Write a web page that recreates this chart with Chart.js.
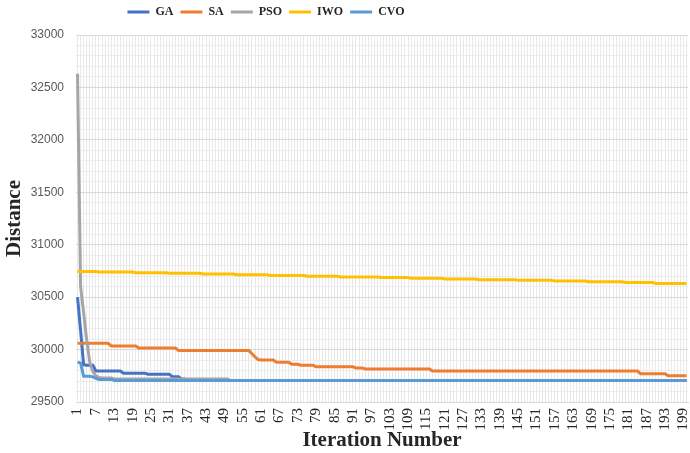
<!DOCTYPE html>
<html>
<head>
<meta charset="utf-8">
<script src="https://cdn.jsdelivr.net/npm/chart.js@4.4.1/dist/chart.umd.min.js"></script>
<style>
  html, body { margin: 0; padding: 0; background: #fff; }
  canvas { display: block; }
</style>
</head>
<body>
<canvas id="conv-canvas" width="690" height="453"></canvas>
<script>
let iterations = Array.from({ length: 200 }, (_, i) => i + 1);
let seriesNames = ['GA', 'SA', 'PSO', 'IWO', 'CVO'];
let seriesColors = ['#4472C4', '#ED7D31', '#A5A5A5', '#FFC000', '#5B9BD5'];

let gaDistance = [
    30500, 30180, 29855, 29850, 29850, 29850, 29795, 29795, 29795, 29795, 29795, 29795, 29795, 29795, 29795, 29775, 29775, 29775, 29775, 29775,
    29775, 29775, 29775, 29765, 29765, 29765, 29765, 29765, 29765, 29765, 29765, 29740, 29740, 29740, 29720, 29720, 29705, 29705, 29705, 29705,
    29705, 29705, 29705, 29705, 29705, 29705, 29705, 29705, 29705, 29705, 29705, 29705, 29705, 29705, 29705, 29705, 29705, 29705, 29705, 29705,
    29705, 29705, 29705, 29705, 29705, 29705, 29705, 29705, 29705, 29705, 29705, 29705, 29705, 29705, 29705, 29705, 29705, 29705, 29705, 29705,
    29705, 29705, 29705, 29705, 29705, 29705, 29705, 29705, 29705, 29705, 29705, 29705, 29705, 29705, 29705, 29705, 29705, 29705, 29705, 29705,
    29705, 29705, 29705, 29705, 29705, 29705, 29705, 29705, 29705, 29705, 29705, 29705, 29705, 29705, 29705, 29705, 29705, 29705, 29705, 29705,
    29705, 29705, 29705, 29705, 29705, 29705, 29705, 29705, 29705, 29705, 29705, 29705, 29705, 29705, 29705, 29705, 29705, 29705, 29705, 29705,
    29705, 29705, 29705, 29705, 29705, 29705, 29705, 29705, 29705, 29705, 29705, 29705, 29705, 29705, 29705, 29705, 29705, 29705, 29705, 29705,
    29705, 29705, 29705, 29705, 29705, 29705, 29705, 29705, 29705, 29705, 29705, 29705, 29705, 29705, 29705, 29705, 29705, 29705, 29705, 29705,
    29705, 29705, 29705, 29705, 29705, 29705, 29705, 29705, 29705, 29705, 29705, 29705, 29705, 29705, 29705, 29705, 29705, 29705, 29705, 29705
];

let saDistance = [
    30060, 30060, 30060, 30060, 30060, 30060, 30060, 30060, 30060, 30060, 30060, 30035, 30035, 30035, 30035, 30035, 30035, 30035, 30035, 30035,
    30015, 30015, 30015, 30015, 30015, 30015, 30015, 30015, 30015, 30015, 30015, 30015, 30015, 29990, 29990, 29990, 29990, 29990, 29990, 29990,
    29990, 29990, 29990, 29990, 29990, 29990, 29990, 29990, 29990, 29990, 29990, 29990, 29990, 29990, 29990, 29990, 29990, 29960, 29930, 29905,
    29900, 29900, 29900, 29900, 29900, 29880, 29880, 29880, 29880, 29880, 29860, 29860, 29860, 29850, 29850, 29850, 29850, 29850, 29835, 29835,
    29835, 29835, 29835, 29835, 29835, 29835, 29835, 29835, 29835, 29835, 29835, 29825, 29825, 29825, 29815, 29815, 29815, 29815, 29815, 29815,
    29815, 29815, 29815, 29815, 29815, 29815, 29815, 29815, 29815, 29815, 29815, 29815, 29815, 29815, 29815, 29815, 29795, 29795, 29795, 29795,
    29795, 29795, 29795, 29795, 29795, 29795, 29795, 29795, 29795, 29795, 29795, 29795, 29795, 29795, 29795, 29795, 29795, 29795, 29795, 29795,
    29795, 29795, 29795, 29795, 29795, 29795, 29795, 29795, 29795, 29795, 29795, 29795, 29795, 29795, 29795, 29795, 29795, 29795, 29795, 29795,
    29795, 29795, 29795, 29795, 29795, 29795, 29795, 29795, 29795, 29795, 29795, 29795, 29795, 29795, 29795, 29795, 29795, 29795, 29795, 29795,
    29795, 29795, 29795, 29795, 29770, 29770, 29770, 29770, 29770, 29770, 29770, 29770, 29770, 29750, 29750, 29750, 29750, 29750, 29750, 29750
];

let psoDistance = [
    32630, 30600, 30350, 30090, 29880, 29790, 29750, 29735, 29730, 29730, 29730, 29730, 29720, 29720, 29720, 29720, 29720, 29720, 29720, 29720,
    29720, 29720, 29720, 29720, 29720, 29720, 29720, 29720, 29720, 29720, 29720, 29720, 29720, 29720, 29720, 29720, 29720, 29720, 29720, 29720,
    29720, 29720, 29720, 29720, 29720, 29720, 29720, 29720, 29720, 29720, 29705, 29705, 29705, 29705, 29705, 29705, 29705, 29705, 29705, 29705,
    29705, 29705, 29705, 29705, 29705, 29705, 29705, 29705, 29705, 29705, 29705, 29705, 29705, 29705, 29705, 29705, 29705, 29705, 29705, 29705,
    29705, 29705, 29705, 29705, 29705, 29705, 29705, 29705, 29705, 29705, 29705, 29705, 29705, 29705, 29705, 29705, 29705, 29705, 29705, 29705,
    29705, 29705, 29705, 29705, 29705, 29705, 29705, 29705, 29705, 29705, 29705, 29705, 29705, 29705, 29705, 29705, 29705, 29705, 29705, 29705,
    29705, 29705, 29705, 29705, 29705, 29705, 29705, 29705, 29705, 29705, 29705, 29705, 29705, 29705, 29705, 29705, 29705, 29705, 29705, 29705,
    29705, 29705, 29705, 29705, 29705, 29705, 29705, 29705, 29705, 29705, 29705, 29705, 29705, 29705, 29705, 29705, 29705, 29705, 29705, 29705,
    29705, 29705, 29705, 29705, 29705, 29705, 29705, 29705, 29705, 29705, 29705, 29705, 29705, 29705, 29705, 29705, 29705, 29705, 29705, 29705,
    29705, 29705, 29705, 29705, 29705, 29705, 29705, 29705, 29705, 29705, 29705, 29705, 29705, 29705, 29705, 29705, 29705, 29705, 29705, 29705
];

let iwoDistance = [
    30745, 30745, 30745, 30745, 30745, 30745, 30745, 30740, 30740, 30740, 30740, 30740, 30740, 30740, 30740, 30740, 30740, 30740, 30740, 30733,
    30733, 30733, 30733, 30733, 30733, 30733, 30733, 30733, 30733, 30733, 30727, 30727, 30727, 30727, 30727, 30727, 30727, 30727, 30727, 30727,
    30727, 30720, 30720, 30720, 30720, 30720, 30720, 30720, 30720, 30720, 30720, 30720, 30713, 30713, 30713, 30713, 30713, 30713, 30713, 30713,
    30713, 30713, 30713, 30707, 30707, 30707, 30707, 30707, 30707, 30707, 30707, 30707, 30707, 30707, 30707, 30700, 30700, 30700, 30700, 30700,
    30700, 30700, 30700, 30700, 30700, 30700, 30693, 30693, 30693, 30693, 30693, 30693, 30693, 30693, 30693, 30693, 30693, 30693, 30693, 30687,
    30687, 30687, 30687, 30687, 30687, 30687, 30687, 30687, 30687, 30680, 30680, 30680, 30680, 30680, 30680, 30680, 30680, 30680, 30680, 30680,
    30673, 30673, 30673, 30673, 30673, 30673, 30673, 30673, 30673, 30673, 30673, 30667, 30667, 30667, 30667, 30667, 30667, 30667, 30667, 30667,
    30667, 30667, 30667, 30667, 30660, 30660, 30660, 30660, 30660, 30660, 30660, 30660, 30660, 30660, 30660, 30660, 30653, 30653, 30653, 30653,
    30653, 30653, 30653, 30653, 30653, 30653, 30653, 30647, 30647, 30647, 30647, 30647, 30647, 30647, 30647, 30647, 30647, 30647, 30647, 30640,
    30640, 30640, 30640, 30640, 30640, 30640, 30640, 30640, 30640, 30630, 30630, 30630, 30630, 30630, 30630, 30630, 30630, 30630, 30630, 30630
];

let cvoDistance = [
    29880, 29870, 29745, 29745, 29745, 29740, 29725, 29715, 29715, 29715, 29715, 29715, 29705, 29705, 29705, 29705, 29705, 29705, 29705, 29705,
    29705, 29705, 29705, 29705, 29705, 29705, 29705, 29705, 29705, 29705, 29705, 29705, 29705, 29705, 29705, 29705, 29705, 29705, 29705, 29705,
    29705, 29705, 29705, 29705, 29705, 29705, 29705, 29705, 29705, 29705, 29705, 29705, 29705, 29705, 29705, 29705, 29705, 29705, 29705, 29705,
    29705, 29705, 29705, 29705, 29705, 29705, 29705, 29705, 29705, 29705, 29705, 29705, 29705, 29705, 29705, 29705, 29705, 29705, 29705, 29705,
    29705, 29705, 29705, 29705, 29705, 29705, 29705, 29705, 29705, 29705, 29705, 29705, 29705, 29705, 29705, 29705, 29705, 29705, 29705, 29705,
    29705, 29705, 29705, 29705, 29705, 29705, 29705, 29705, 29705, 29705, 29705, 29705, 29705, 29705, 29705, 29705, 29705, 29705, 29705, 29705,
    29705, 29705, 29705, 29705, 29705, 29705, 29705, 29705, 29705, 29705, 29705, 29705, 29705, 29705, 29705, 29705, 29705, 29705, 29705, 29705,
    29705, 29705, 29705, 29705, 29705, 29705, 29705, 29705, 29705, 29705, 29705, 29705, 29705, 29705, 29705, 29705, 29705, 29705, 29705, 29705,
    29705, 29705, 29705, 29705, 29705, 29705, 29705, 29705, 29705, 29705, 29705, 29705, 29705, 29705, 29705, 29705, 29705, 29705, 29705, 29705,
    29705, 29705, 29705, 29705, 29705, 29705, 29705, 29705, 29705, 29705, 29705, 29705, 29705, 29705, 29705, 29705, 29705, 29705, 29705, 29705
];

let allSeries = [gaDistance, saDistance, psoDistance, iwoDistance, cvoDistance];

// legend sits left of centre in the original, nudge it there
let legendNudge = {
    id: 'legendNudge',
    afterLayout(chart) {
        let lg = chart.legend;
        if (!lg || !lg.lineWidths) return;
        let pad = lg.options.labels.padding;
        let w = lg.lineWidths[0] - pad;
        let curStart = (lg.left + pad + lg.right - lg.lineWidths[0]) / 2;
        let dx = 266 - w / 2 - curStart;
        lg.left += dx;
        lg.right += dx;
        lg.top -= 7;
        lg.bottom -= 7;
    }
};

let ctx = document.getElementById('conv-canvas').getContext('2d');

let convChart = new Chart(ctx, {
    type: 'line',
    data: {
        labels: iterations,
        datasets: allSeries.map((vals, i) => ({
            label: seriesNames[i],
            data: vals,
            borderColor: seriesColors[i],
            backgroundColor: seriesColors[i],
            borderWidth: 3,
            pointRadius: 0,
            tension: 0,
            fill: false,
            order: allSeries.length - i
        }))
    },
    options: {
        responsive: false,
        animation: false,
        devicePixelRatio: 1,
        layout: {
            padding: { top: 6, right: 2, left: 0, bottom: 0 }
        },
        plugins: {
            legend: {
                position: 'top',
                align: 'center',
                labels: {
                    usePointStyle: true,
                    pointStyle: 'line',
                    pointStyleWidth: 22,
                    padding: 7,
                    color: '#262626',
                    font: { family: 'Liberation Serif', size: 12, weight: 'bold' },
                    sort: (a, b) => a.datasetIndex - b.datasetIndex
                }
            },
            tooltip: { enabled: false }
        },
        scales: {
            x: {
                offset: true,
                grid: { color: '#e8e8e8', drawTicks: false },
                border: { color: '#d9d9d9' },
                ticks: {
                    autoSkip: false,
                    maxRotation: 90,
                    minRotation: 90,
                    padding: 6,
                    color: '#262626',
                    font: { family: 'Liberation Serif', size: 15 },
                    callback: (v, i) => (i % 6 === 0 ? String(iterations[i]) : '')
                },
                title: {
                    display: true,
                    text: 'Iteration Number',
                    color: '#262626',
                    font: { family: 'Liberation Serif', size: 21, weight: 'bold' },
                    padding: { top: 0, bottom: 0 }
                },
                afterFit: (s) => {
                    s.height = 51;
                    s.paddingLeft = 0;
                    s.paddingRight = 0;
                }
            },
            y: {
                min: 29500,
                max: 33000,
                grid: {
                    drawTicks: false,
                    color: (c) => (c.tick && c.tick.value % 500 === 0 ? '#d9d9d9' : '#ececec')
                },
                border: { display: false },
                ticks: {
                    stepSize: 100,
                    autoSkip: false,
                    padding: 12,
                    color: '#595959',
                    font: { family: 'Liberation Sans', size: 12 },
                    callback: (v) => (v % 500 === 0 ? String(v) : '')
                },
                title: {
                    display: true,
                    text: 'Distance',
                    color: '#262626',
                    font: { family: 'Liberation Serif', size: 21, weight: 'bold' },
                    padding: { top: 2, bottom: 0 }
                },
                afterFit: (s) => { s.width = 76; }
            }
        }
    },
    plugins: [legendNudge]
});
</script>
</body>
</html>
